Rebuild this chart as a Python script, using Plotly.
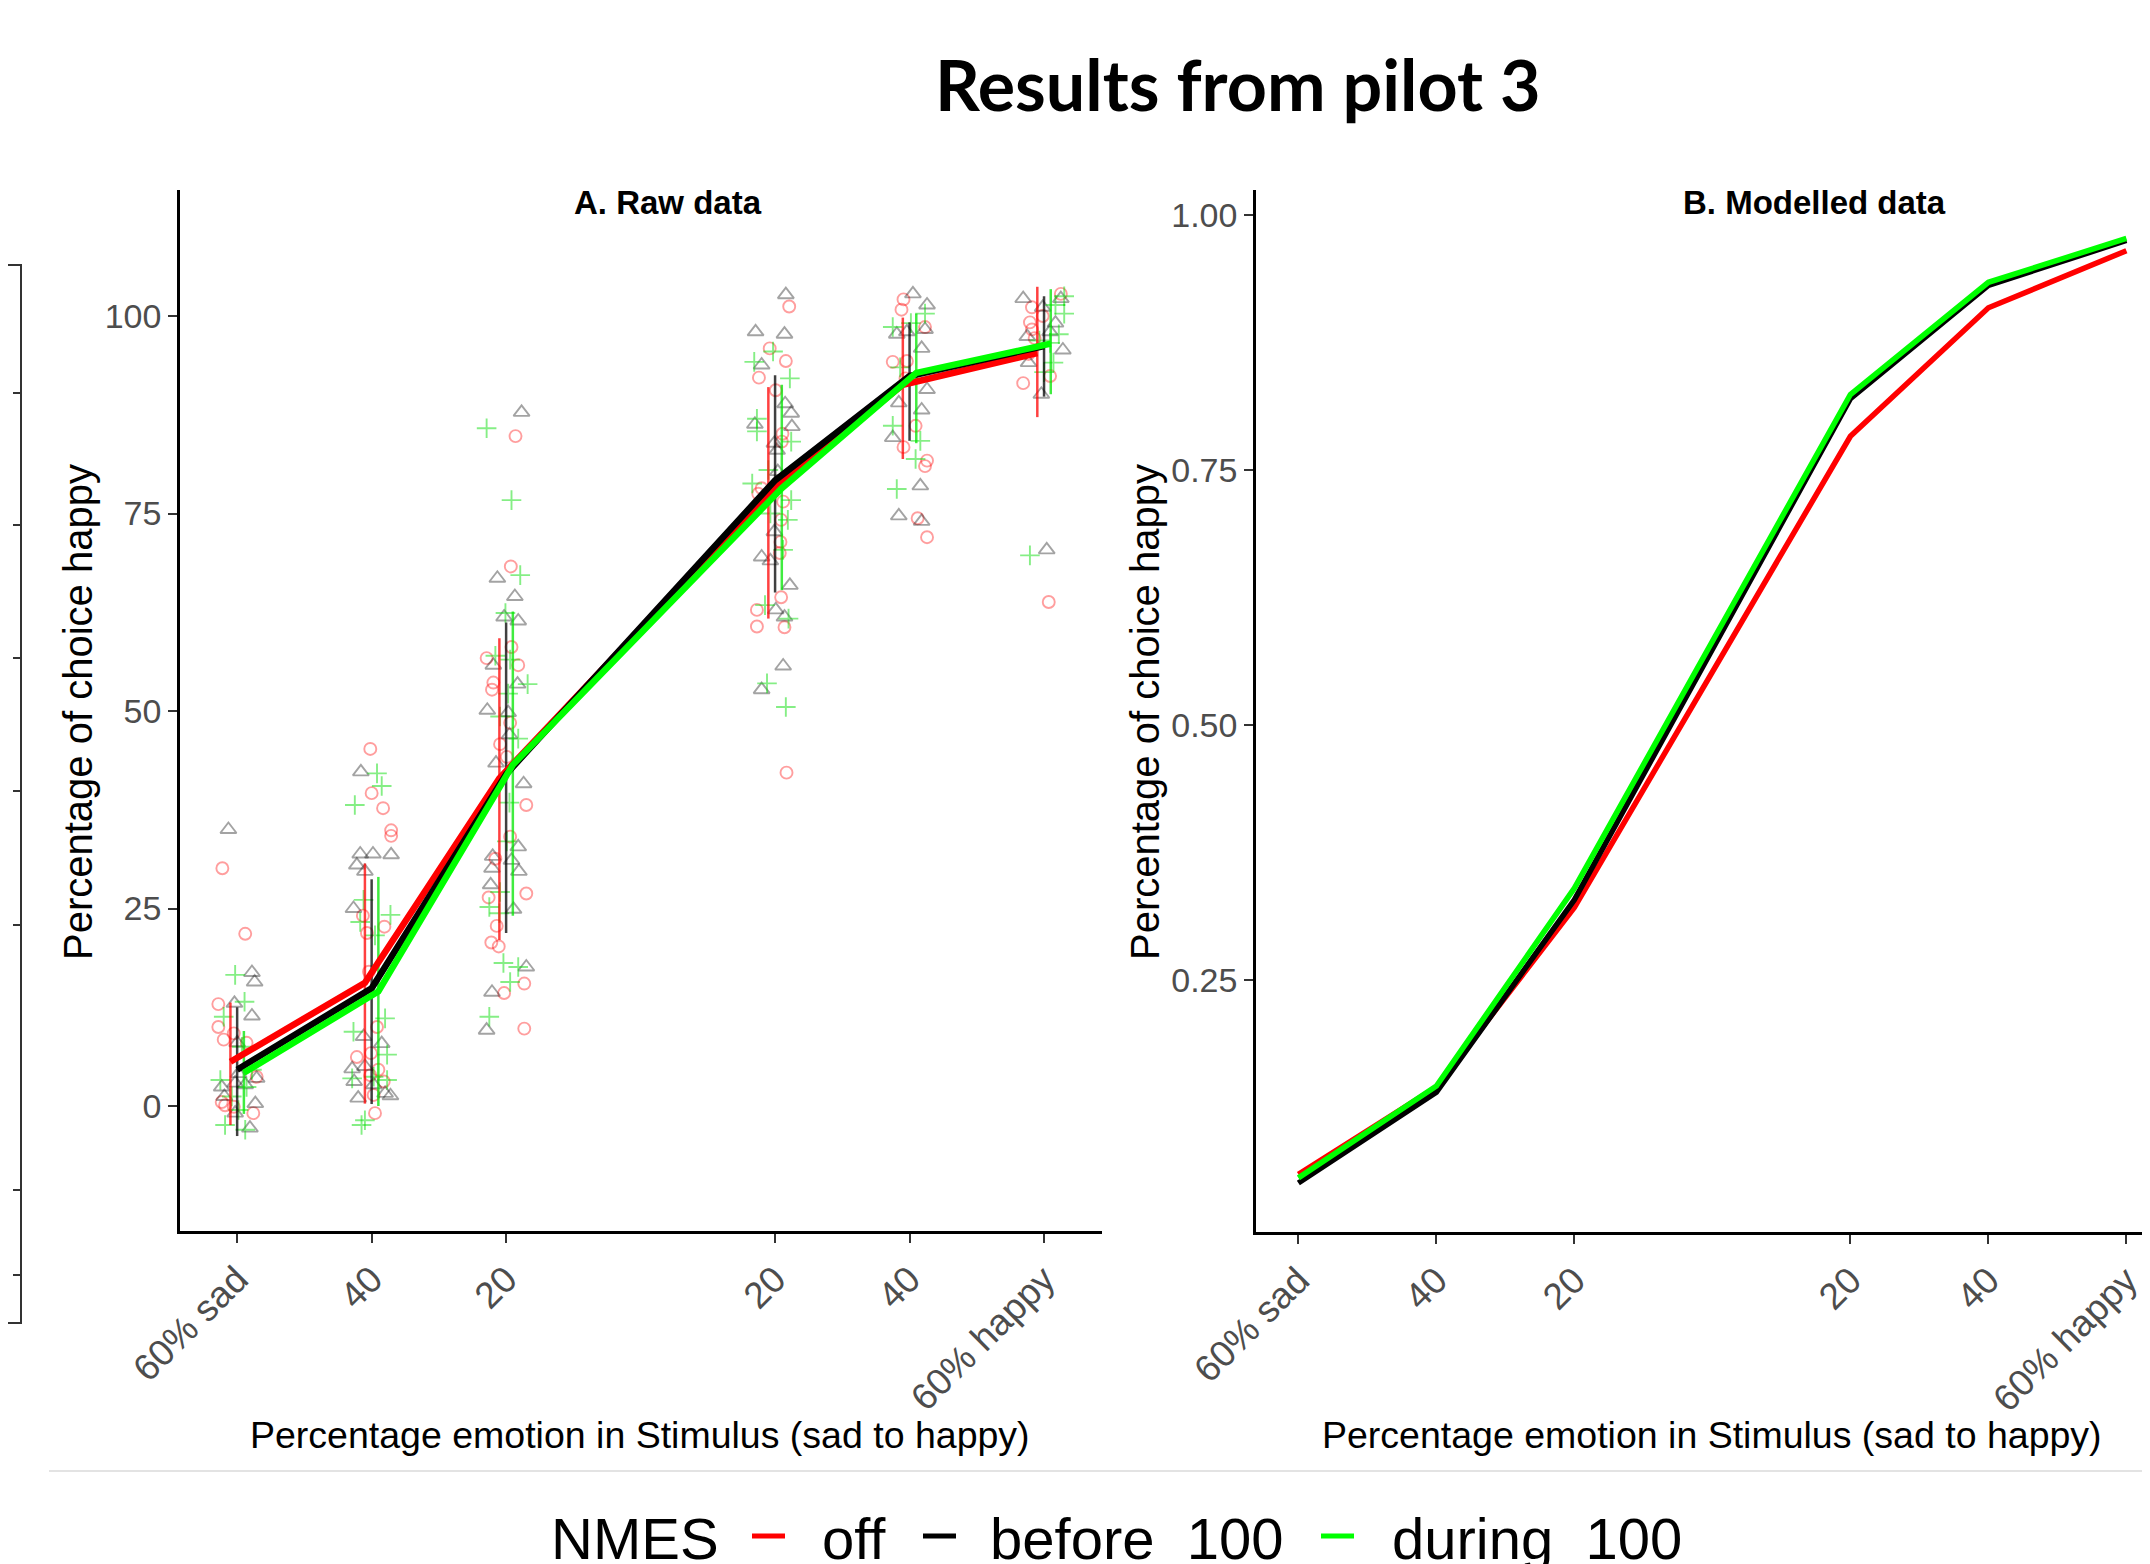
import plotly.graph_objects as go

W, H = 2150, 1564
OFF = 8  # default page margin of the html body

# ---------------- data ----------------
stim = [-60, -40, -20, 20, 40, 60]
tick_text = ["60% sad", "40", "20", "20", "40", "60% happy"]
groups = ["off", "before  100", "during  100"]

# Panel A: group means and error ranges (percentage choice happy)
mean_off = [5.6, 15.6, 41.5, 77.5, 91.3, 95.3]
mean_before = [4.6, 14.9, 42.0, 79.2, 92.4, 96.2]
mean_during = [4.2, 14.5, 43.2, 78.2, 92.8, 96.5]

low_off = [-2.4, 0.3, 21.0, 61.7, 81.9, 87.2]
up_off = [13.1, 30.7, 59.2, 91.0, 99.8, 103.7]
low_before = [-3.8, 0.25, 21.9, 65.0, 84.2, 89.8]
up_before = [12.5, 28.7, 61.2, 92.5, 99.2, 102.5]
low_during = [-1.0, 0.0, 24.1, 65.3, 83.9, 90.1]
up_during = [9.5, 29.0, 62.6, 91.3, 100.3, 103.4]

# Panel A: raw participant points (jittered x, y)
off_x = [-62.2, -58.8, -62.8, -62.8, -62.0, -60.5, -58.6, -62.3, -61.8, -57.6, -57.1, -60.5,
         -40.2, -40.0, -38.3, -37.1, -37.1, -41.3, -38.1, -40.7, -40.4, -39.2, -42.2, -40.1, -39.0, -38.2, -39.7, -39.5, -40.2,
         -18.6, -19.3, -19.2, -22.9, -18.2, -21.9, -22.1, -19.4, -20.9, -19.9, -17.0, -19.4, -21.6, -17.0, -22.6, -21.4, -22.2, -21.1, -17.3, -20.3, -17.3,
         22.1, 19.2, 21.6, 17.6, 20.1, 21.1, 21.0, 18.0, 17.5, 21.2, 20.9, 20.8, 20.7, 20.9, 17.3, 17.3, 21.4, 21.7,
         39.1, 38.8, 37.5, 39.6, 42.3, 40.9, 39.1, 42.6, 42.3, 41.2, 42.6, 39.4,
         62.5, 58.2, 57.9, 58.2, 58.6, 57.7, 56.9, 60.9, 60.7, 59.8]
off_y = [30.1, 21.8, 12.9, 10.0, 8.4, 9.2, 8.0, 0.5, 0.1, -0.9, 3.7, -0.1,
         45.2, 39.6, 37.7, 34.9, 34.2, 24.1, 22.7, 21.9, 17.0, 10.0, 6.2, 6.7, 4.6, 3.1, 1.4, -0.9, 3.9,
         84.8, 68.3, 58.1, 56.7, 55.8, 53.6, 52.7, 48.5, 45.8, 44.2, 38.1, 34.1, 31.3, 26.9, 26.4, 22.8, 20.7, 20.2, 15.5, 14.3, 9.8,
         101.2, 95.9, 94.3, 92.2, 90.6, 85.1, 84.1, 78.2, 77.5, 76.5, 74.2, 71.4, 70.0, 64.4, 62.8, 60.7, 60.6, 42.2,
         102.1, 100.8, 94.2, 94.3, 98.6, 86.1, 83.4, 81.7, 81.0, 74.4, 72.0, 92.1,
         102.8, 101.1, 99.2, 98.3, 97.2, 95.2, 91.5, 92.4, 63.8, 100.0]

before_x = [-61.3, -57.8, -57.4, -60.4, -57.8, -60.0, -62.3, -60.3, -58.8, -57.1, -57.3, -61.9, -60.3, -58.1, -59.8,
            -41.6, -41.7, -39.8, -37.1, -42.2, -41.0, -42.7, -41.2, -38.5, -42.9, -41.0, -42.6, -39.7, -42.0, -37.2, -38.0,
            -17.7, -21.3, -18.7, -20.3, -18.2, -21.9, -18.3, -22.8, -19.7, -19.5, -21.5, -17.4, -18.2, -22.0, -19.2, -22.1, -18.1, -22.3, -18.9, -17.0, -22.1, -22.9,
            21.6, 17.1, 21.4, 18.0, 21.5, 22.4, 17.0, 22.5, 19.9, 20.3, 20.4, 19.9, 18.0, 19.3, 22.2, 20.1, 21.4, 21.2, 18.0,
            40.5, 42.6, 38.1, 39.6, 42.3, 41.8, 38.4, 41.8, 42.6, 37.5, 41.6, 38.4, 41.8,
            56.9, 62.5, 59.8, 57.5, 61.7, 57.7, 62.8, 59.6, 60.4, 60.9]
before_y = [35.0, 16.9, 15.7, 13.0, 11.4, 8.0, 2.4, 2.9, 2.7, 3.5, 0.3, 1.2, -0.9, -2.8, 4.1,
            42.3, 31.9, 31.9, 31.8, 30.5, 29.7, 25.0, 8.8, 7.9, 4.7, 5.0, 3.1, 2.7, 1.0, 1.3, 1.6,
            87.8, 66.8, 64.5, 61.9, 61.4, 55.8, 53.4, 50.1, 49.8, 47.0, 43.4, 40.8, 32.8, 31.6, 31.1, 30.1, 29.7, 28.0, 24.9, 17.6, 14.4, 9.6,
            102.7, 98.0, 97.7, 93.8, 88.9, 87.7, 86.3, 86.0, 83.9, 83.0, 80.3, 72.7, 69.5, 69.0, 65.9, 62.8, 61.9, 55.7, 52.7,
            102.8, 101.4, 97.7, 98.0, 98.3, 95.9, 89.0, 88.1, 90.7, 84.6, 78.5, 74.7, 74.0,
            102.2, 102.2, 101.1, 97.4, 99.1, 94.1, 95.7, 90.1, 70.4, 98.0]

during_x = [-60.3, -58.9, -62.0, -59.3, -62.5, -58.6, -61.8, -59.8, -60.8, -58.8, -57.8,
            -39.2, -38.5, -42.5, -41.2, -37.2, -41.7, -39.5, -38.0, -42.7, -37.7, -42.9, -37.7, -41.0, -41.5, -39.7,
            -22.9, -19.2, -17.9, -21.6, -19.4, -16.8, -19.7, -20.9, -18.2, -20.1, -19.5, -19.9, -20.9, -22.5, -21.0, -20.4, -18.2, -19.4, -22.5,
            16.9, 19.7, 22.2, 17.3, 17.3, 22.4, 19.0, 16.6, 22.4, 19.3, 21.9, 21.2, 18.5, 22.0, 18.8, 21.6,
            37.5, 40.2, 42.3, 37.5, 41.6, 38.1, 40.9, 38.6,
            63.0, 61.7, 63.0, 62.2, 60.9, 61.4, 60.0, 57.9, 59.3]
during_y = [16.6, 13.2, 11.3, 7.5, 3.3, 2.4, -2.4, -0.5, 1.2, -3.0, 4.6,
            42.1, 40.5, 38.1, 26.1, 24.2, 23.3, 21.6, 11.1, 9.4, 6.5, 3.5, 3.3, -1.8, -2.4, 3.7,
            85.8, 76.7, 67.2, 57.0, 56.5, 53.4, 52.2, 49.3, 46.5, 62.4, 38.4, 33.5, 27.1, 25.2, 24.4, 18.1, 17.6, 15.7, 11.3,
            94.2, 95.5, 92.1, 87.0, 85.4, 84.1, 80.5, 78.8, 76.7, 75.0, 74.2, 70.4, 63.4, 61.7, 53.5, 50.5,
            98.6, 99.1, 100.3, 86.1, 84.2, 78.1, 81.9, 93.5,
            102.5, 101.4, 100.3, 97.7, 96.6, 94.1, 92.9, 69.7, 96.9]

# Panel B: modelled probabilities
model_off = [0.0595, 0.145, 0.321, 0.783, 0.909, 0.965]
model_before = [0.051, 0.140, 0.3285, 0.820, 0.931, 0.975]
model_during = [0.056, 0.146, 0.340, 0.824, 0.934, 0.977]

yticks_a = [0, 25, 50, 75, 100]
yticks_b = [0.25, 0.50, 0.75, 1.00]
yticks_b_text = ["0.25", "0.50", "0.75", "1.00"]

# ---------------- styling ----------------
COL = {"off": "#FF0000", "before": "#000000", "during": "#00FF00"}
PT = {"off": "rgba(255,0,0,0.38)", "before": "rgba(0,0,0,0.36)", "during": "rgba(0,220,0,0.48)"}
BAR = {"off": "rgba(255,0,0,0.75)", "before": "rgba(0,0,0,0.75)", "during": "rgba(0,230,0,0.75)"}
DODGE = {"off": -1.0, "before": 0.0, "during": 1.0}
SANS = "Liberation Sans, Arial, sans-serif"


def px(x):
    return (x - OFF) / W


def py(y):
    return 1 - (y - OFF) / H


fig = go.Figure()

# raw points
for key, xs, ys, sym, size in [
    ("off", off_x, off_y, "circle-open", 12),
    ("before", before_x, before_y, "triangle-up-open", 14),
    ("during", during_x, during_y, "cross-thin-open", 14),
]:
    fig.add_trace(go.Scatter(
        x=xs, y=ys, mode="markers", xaxis="x", yaxis="y", showlegend=False,
        marker=dict(symbol=sym, size=size, color=PT[key], line=dict(width=1.9, color=PT[key])),
        hoverinfo="skip"))

# error ranges
for key, lo, up in [("off", low_off, up_off), ("before", low_before, up_before), ("during", low_during, up_during)]:
    xs, ys = [], []
    for s, l, u in zip(stim, lo, up):
        xs += [s + DODGE[key], s + DODGE[key], None]
        ys += [l, u, None]
    fig.add_trace(go.Scatter(x=xs, y=ys, mode="lines", xaxis="x", yaxis="y", showlegend=False,
                             line=dict(color=BAR[key], width=2.5), hoverinfo="skip"))

# mean lines
for key, m in [("off", mean_off), ("before", mean_before), ("during", mean_during)]:
    fig.add_trace(go.Scatter(x=[s + DODGE[key] for s in stim], y=m, mode="lines", xaxis="x", yaxis="y",
                             showlegend=False, line=dict(color=COL[key], width=6.5)))

# modelled lines
for key, m in [("off", model_off), ("before", model_before), ("during", model_during)]:
    fig.add_trace(go.Scatter(x=stim, y=m, mode="lines", xaxis="x2", yaxis="y2",
                             showlegend=False, line=dict(color=COL[key], width=5.5)))

axis_common = dict(showgrid=False, zeroline=False, showline=True, linecolor="black", linewidth=2.5,
                   ticks="outside", ticklen=9, tickwidth=2, tickcolor="#333333", automargin=False)

fig.update_layout(
    template="none",
    width=W, height=H, margin=dict(l=0, r=0, t=0, b=0, pad=0, autoexpand=False),
    paper_bgcolor="white", plot_bgcolor="white", showlegend=False,
    xaxis=dict(domain=[px(180), px(1102)], range=[-68.5, 68.62], anchor="y",
               tickvals=stim, ticktext=tick_text, tickangle=-45,
               tickfont=dict(family=SANS, size=37, color="#4D4D4D"), **axis_common),
    yaxis=dict(domain=[py(1231), py(190)], range=[-15.82, 115.95], anchor="x",
               tickvals=yticks_a, tickfont=dict(family=SANS, size=34, color="#4D4D4D"), **axis_common),
    xaxis2=dict(domain=[px(1256), 1.0], range=[-66.14, 64.58], anchor="y2",
                tickvals=stim, ticktext=tick_text, tickangle=-45,
                tickfont=dict(family=SANS, size=37, color="#4D4D4D"), **axis_common),
    yaxis2=dict(domain=[py(1232), py(190)], range=[0.0029, 1.0245], anchor="x2",
                tickvals=yticks_b, ticktext=yticks_b_text,
                tickfont=dict(family=SANS, size=34, color="#4D4D4D"), **axis_common),
)

ann = []


def add_text(text, x, y, size, family, color="black", bold=False, angle=0, xanchor="center"):
    ann.append(dict(text=f"<b>{text}</b>" if bold else text, x=px(x), y=py(y), xref="paper", yref="paper",
                    xanchor=xanchor, yanchor="middle", showarrow=False, textangle=angle,
                    font=dict(family=family, size=size, color=color)))


add_text("Results from pilot 3", 1238, 84, 70, "Lato, Open Sans, sans-serif", bold=True)
add_text("A. Raw data", 668, 203, 33, SANS, bold=True)
add_text("B. Modelled data", 1814, 203, 33, SANS, bold=True)
add_text("Percentage emotion in Stimulus (sad to happy)", 640, 1435, 37.5, SANS)
add_text("Percentage emotion in Stimulus (sad to happy)", 1712, 1435, 37.5, SANS)
add_text("Percentage of choice happy", 78, 712, 40, SANS, angle=-90)
add_text("Percentage of choice happy", 1145, 712, 40, SANS, angle=-90)

# legend (bottom)
add_text("NMES", 549, 1538, 58, SANS, xanchor="left")
add_text(groups[0], 820, 1538, 58, SANS, xanchor="left")
add_text(groups[1].replace("  ", "\u00a0 "), 988, 1538, 58, SANS, xanchor="left")
add_text(groups[2].replace("  ", "\u00a0 "), 1390, 1538, 58, SANS, xanchor="left")
fig.update_layout(annotations=ann)

shapes = []
for key, x0, x1 in [("off", 752, 785), ("before", 923, 956), ("during", 1321, 1354)]:
    shapes.append(dict(type="line", xref="paper", yref="paper", x0=px(x0), x1=px(x1), y0=py(1536), y1=py(1536),
                       line=dict(color=COL[key], width=5)))
# slide separator
shapes.append(dict(type="line", xref="paper", yref="paper", x0=px(49), x1=1, y0=py(1471), y1=py(1471),
                   line=dict(color="#E3E3E3", width=2)))
# cropped neighbouring panel frame at the left edge
shapes.append(dict(type="path", xref="paper", yref="paper",
                   path=f"M {px(0)},{py(265)} L {px(21)},{py(265)} L {px(21)},{py(1323)} L {px(0)},{py(1323)}",
                   line=dict(color="#333333", width=2)))
for ty in [393, 525, 658, 791, 925, 1190, 1275]:
    shapes.append(dict(type="line", xref="paper", yref="paper", x0=px(13), x1=px(21), y0=py(ty), y1=py(ty),
                       line=dict(color="#333333", width=2)))
fig.update_layout(shapes=shapes)

fig.write_html("out.html")
